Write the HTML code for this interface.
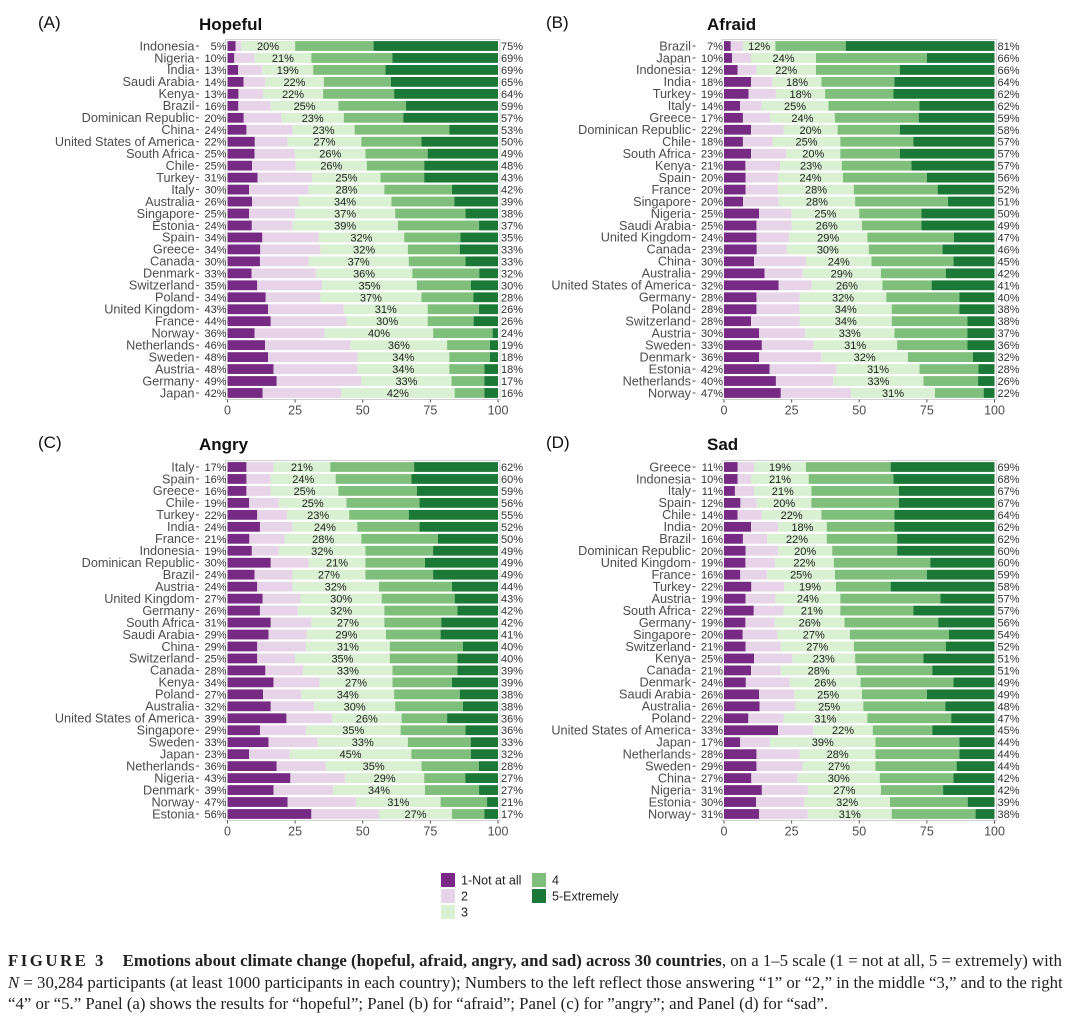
<!DOCTYPE html>
<html><head><meta charset="utf-8"><style>
html,body{margin:0;padding:0;background:#fff;width:1080px;height:1020px;overflow:hidden}
svg{display:block}
.cap{position:absolute;left:8px;top:950px;width:1075px;font-family:"Liberation Serif",serif;font-size:16.8px;line-height:21.5px;color:#222;white-space:nowrap}
</style></head><body>
<svg id="fig" width="1080" height="945" xmlns="http://www.w3.org/2000/svg" font-family="Liberation Sans, Arial, sans-serif"></svg>
<div class="cap"><b style="letter-spacing:2.5px">FIGURE 3</b>&nbsp;&nbsp;&nbsp; <b>Emotions about climate change (hopeful, afraid, angry, and sad) across 30 countries</b>, on a 1–5 scale (1 = not at all, 5 = extremely) with<br><i>N</i> = 30,284 participants (at least 1000 participants in each country); Numbers to the left reflect those answering “1” or “2,” in the middle “3,” and to the right<br>“4” or “5.” Panel (a) shows the results for “hopeful”; Panel (b) for “afraid”; Panel (c) for ”angry”; and Panel (d) for “sad”.</div>
<script>
// ---- Panel A: Hopeful ----
const hopefulCountries = ["Indonesia","Nigeria","India","Saudi Arabia","Kenya","Brazil","Dominican Republic","China","United States of America","South Africa","Chile","Turkey","Italy","Australia","Singapore","Estonia","Spain","Greece","Canada","Denmark","Switzerland","Poland","United Kingdom","France","Norway","Netherlands","Sweden","Austria","Germany","Japan"];
const hopefulLeft = [5,10,13,14,13,16,20,24,22,25,25,31,30,26,25,24,34,34,30,33,35,34,43,44,36,46,48,48,49,42];
const hopefulMid = [20,21,19,22,22,25,23,23,27,26,26,25,28,34,37,39,32,32,37,36,35,37,31,30,40,36,34,34,33,42];
const hopefulRight = [75,69,69,65,64,59,57,53,50,49,48,43,42,39,38,37,35,33,33,32,30,28,26,26,24,19,18,18,17,16];
const hopefulP1 = [3,2.5,4,6,4,4,6,7,10,10,9,11,8,9,8,9,13,12,12,9,11,14,15,16,10,14,15,17,18,13];
const hopefulP5 = [46,39,42,40,38,34,35,18,28,26,27,27,17,16,12,7,14,14,12,7,10,9,7,9,2,3,3,5,5,5];
// ---- Panel B: Afraid ----
const afraidCountries = ["Brazil","Japan","Indonesia","India","Turkey","Italy","Greece","Dominican Republic","Chile","South Africa","Kenya","Spain","France","Singapore","Nigeria","Saudi Arabia","United Kingdom","Canada","China","Australia","United States of America","Germany","Poland","Switzerland","Austria","Sweden","Denmark","Estonia","Netherlands","Norway"];
const afraidLeft = [7,10,12,18,19,14,17,22,18,23,21,20,20,20,25,25,24,23,30,29,32,28,28,28,30,33,36,42,40,47];
const afraidMid = [12,24,22,18,18,25,24,20,25,20,23,24,28,28,25,26,29,30,24,29,26,32,34,34,33,31,32,31,33,31];
const afraidRight = [81,66,66,64,62,62,59,58,57,57,57,56,52,51,50,49,47,46,45,42,41,40,38,38,37,36,32,28,26,22];
const afraidP1 = [2.5,3,5,10,9,6,7,10,7,10,8,8,8,7,13,12,12,12,11,15,20,12,12,10,13,14,13,17,19,21];
const afraidP5 = [55,25,35,37,37,28,28,35,30,35,31,25,21,17,27,27,15,19,15,18,23,13,13,10,10,10,8,6,6,4];
// ---- Panel C: Angry ----
const angryCountries = ["Italy","Spain","Greece","Chile","Turkey","India","France","Indonesia","Dominican Republic","Brazil","Austria","United Kingdom","Germany","South Africa","Saudi Arabia","China","Switzerland","Canada","Kenya","Poland","Australia","United States of America","Singapore","Sweden","Japan","Netherlands","Nigeria","Denmark","Norway","Estonia"];
const angryLeft = [17,16,16,19,22,24,21,19,30,24,24,27,26,31,29,29,25,28,34,27,32,39,29,33,23,36,43,39,47,56];
const angryMid = [21,24,25,25,23,24,28,32,21,27,32,30,32,27,29,31,35,33,27,34,30,26,35,33,45,35,29,34,31,27];
const angryRight = [62,60,59,56,55,52,50,49,49,49,44,43,42,42,41,40,40,39,39,38,38,36,36,33,32,28,27,27,21,17];
const angryP1 = [7,7,7,8,11,12,8,9,16,10,11,13,12,16,15,11,11,14,17,13,16,22,12,15,8,18,23,17,22,31];
const angryP5 = [31,32,30,29,33,29,22,24,27,24,17,16,15,21,21,13,15,15,17,14,13,19,12,10,10,7,12,7,4,5];
// ---- Panel D: Sad ----
const sadCountries = ["Greece","Indonesia","Italy","Spain","Chile","India","Brazil","Dominican Republic","United Kingdom","France","Turkey","Austria","South Africa","Germany","Singapore","Switzerland","Kenya","Canada","Denmark","Saudi Arabia","Australia","Poland","United States of America","Japan","Netherlands","Sweden","China","Nigeria","Estonia","Norway"];
const sadLeft = [11,10,11,12,14,20,16,20,19,16,22,19,22,19,20,21,25,21,24,26,26,22,33,17,28,29,27,31,30,31];
const sadMid = [19,21,21,20,22,18,22,20,22,25,19,24,21,26,27,27,23,28,26,25,25,31,22,39,28,27,30,27,32,31];
const sadRight = [69,68,67,67,64,62,62,60,60,59,58,57,57,56,54,52,51,51,49,49,48,47,45,44,44,44,42,42,39,38];
const sadP1 = [5,5,4,6,5,10,7,8,8,6,10,8,11,8,7,8,11,10,8,13,13,9,20,6,12,12,10,14,12,13];
const sadP5 = [38,37,35,35,37,37,36,36,24,25,38,20,30,21,17,18,26,23,15,25,18,16,23,13,13,14,15,19,10,7];
const xTicks = [0,25,50,75,100];
const colors = ["#762a83","#e7d4e8","#d9f0d3","#7fbf7b","#1b7837"];
const legendLabels = ["1-Not at all","2","3","4","5-Extremely"];

const NS = "http://www.w3.org/2000/svg";
const svg = document.getElementById("fig");
function mk(tag, attrs, parent){
  const e = document.createElementNS(NS, tag);
  for (const k in attrs) e.setAttribute(k, attrs[k]);
  (parent||svg).appendChild(e);
  return e;
}
function txt(s, attrs, parent){ const t = mk("text", attrs, parent); t.textContent = s; return t; }

function drawPanel(key, letter, title, cfg, countries, left, mid, right, p1, p5){
  const g = mk("g", {});
  
  
  const x0 = cfg.x0, x1 = cfg.x1, y0 = cfg.y0, step = 11.965, bh = 9.8;
  const xs = v => x0 + (x1 - x0) * v / 100;
  const ys = i => y0 + i * step;
  const L = txt("(" + letter + ")", {x: cfg.lx, y: cfg.ty - 2, "font-size": 17, fill: "#111"}, g);
  
  
  const T = txt(title, {x: cfg.tx, y: cfg.ty, "font-size": 17, "font-weight": "bold", fill: "#111"}, g);
  
  
  const n = countries.length;
  const top = ys(0) - 6.5, bot = ys(n - 1) + 6.5;
  const frame = mk("rect", {x: x0 - 2, y: top, width: x1 - x0 + 4, height: bot - top, fill: "#fff", stroke: "#d0d0d0", "stroke-width": 1}, g);
  
  
  for (let i = 0; i < n; i++){
    const vals = [p1[i], left[i] - p1[i], mid[i], right[i] - p5[i], p5[i]];
    const tot = vals.reduce((a, b) => a + b, 0);
    let c = 0;
    const bounds = [];
    for (let k = 0; k < 5; k++){
      const a = c / tot * 100; c += vals[k]; const b = c / tot * 100;
      bounds.push([a, b]);
      const r = mk("rect", {x: xs(a), y: ys(i) - bh / 2, width: Math.max(0, xs(b) - xs(a)), height: bh, fill: colors[k]}, g);
      
      
    }
    const cl = txt(countries[i], {x: x0 - 33, y: ys(i) + 4.3, "font-size": 12.7, "text-anchor": "end", fill: "#4d4d4d"}, g);
    
    
    mk("line", {x1: x0 - 31.5, x2: x0 - 28.5, y1: ys(i), y2: ys(i), stroke: "#555", "stroke-width": 1}, g);
    const lp = txt(left[i] + "%", {x: x0 - 1, y: ys(i) + 4, "font-size": 11, "text-anchor": "end", fill: "#333"}, g);
    
    
    const mp = txt(mid[i] + "%", {x: xs((bounds[2][0] + bounds[2][1]) / 2), y: ys(i) + 4, "font-size": 11, "text-anchor": "middle", fill: "#222"}, g);
    
    
    const rp = txt(right[i] + "%", {x: x1 + 3, y: ys(i) + 4, "font-size": 11, fill: "#333"}, g);
    
    
  }
  xTicks.forEach(t => {
    mk("line", {x1: xs(t), x2: xs(t), y1: bot, y2: bot + 3, stroke: "#555", "stroke-width": 1}, g);
    const tl = txt(String(t), {x: xs(t), y: bot + 15, "font-size": 12.5, "text-anchor": "middle", fill: "#4d4d4d"}, g);
    
    
  });
}

drawPanel("hopeful", "A", "Hopeful", {x0: 227.5, x1: 498, y0: 46, lx: 38, tx: 199, ty: 30}, hopefulCountries, hopefulLeft, hopefulMid, hopefulRight, hopefulP1, hopefulP5);
drawPanel("afraid", "B", "Afraid", {x0: 724, x1: 994.5, y0: 46, lx: 546, tx: 707, ty: 30}, afraidCountries, afraidLeft, afraidMid, afraidRight, afraidP1, afraidP5);
drawPanel("angry", "C", "Angry", {x0: 227.5, x1: 498, y0: 467, lx: 38, tx: 199, ty: 450}, angryCountries, angryLeft, angryMid, angryRight, angryP1, angryP5);
drawPanel("sad", "D", "Sad", {x0: 724, x1: 994.5, y0: 467, lx: 546, tx: 707, ty: 450}, sadCountries, sadLeft, sadMid, sadRight, sadP1, sadP5);

// legend
const lg = mk("g", {});


const legPos = [[441,880],[441,896],[441,912],[532,880],[532,896]];
legendLabels.forEach((lab, k) => {
  const [lx, ly] = legPos[k];
  const sq = mk("rect", {x: lx, y: ly - 7, width: 14, height: 14, fill: colors[k]}, lg);
  
  
  const t = txt(lab, {x: lx + 20, y: ly + 4.5, "font-size": 12.5, fill: "#222"}, lg);
  
  
});
</script>
</body></html>
